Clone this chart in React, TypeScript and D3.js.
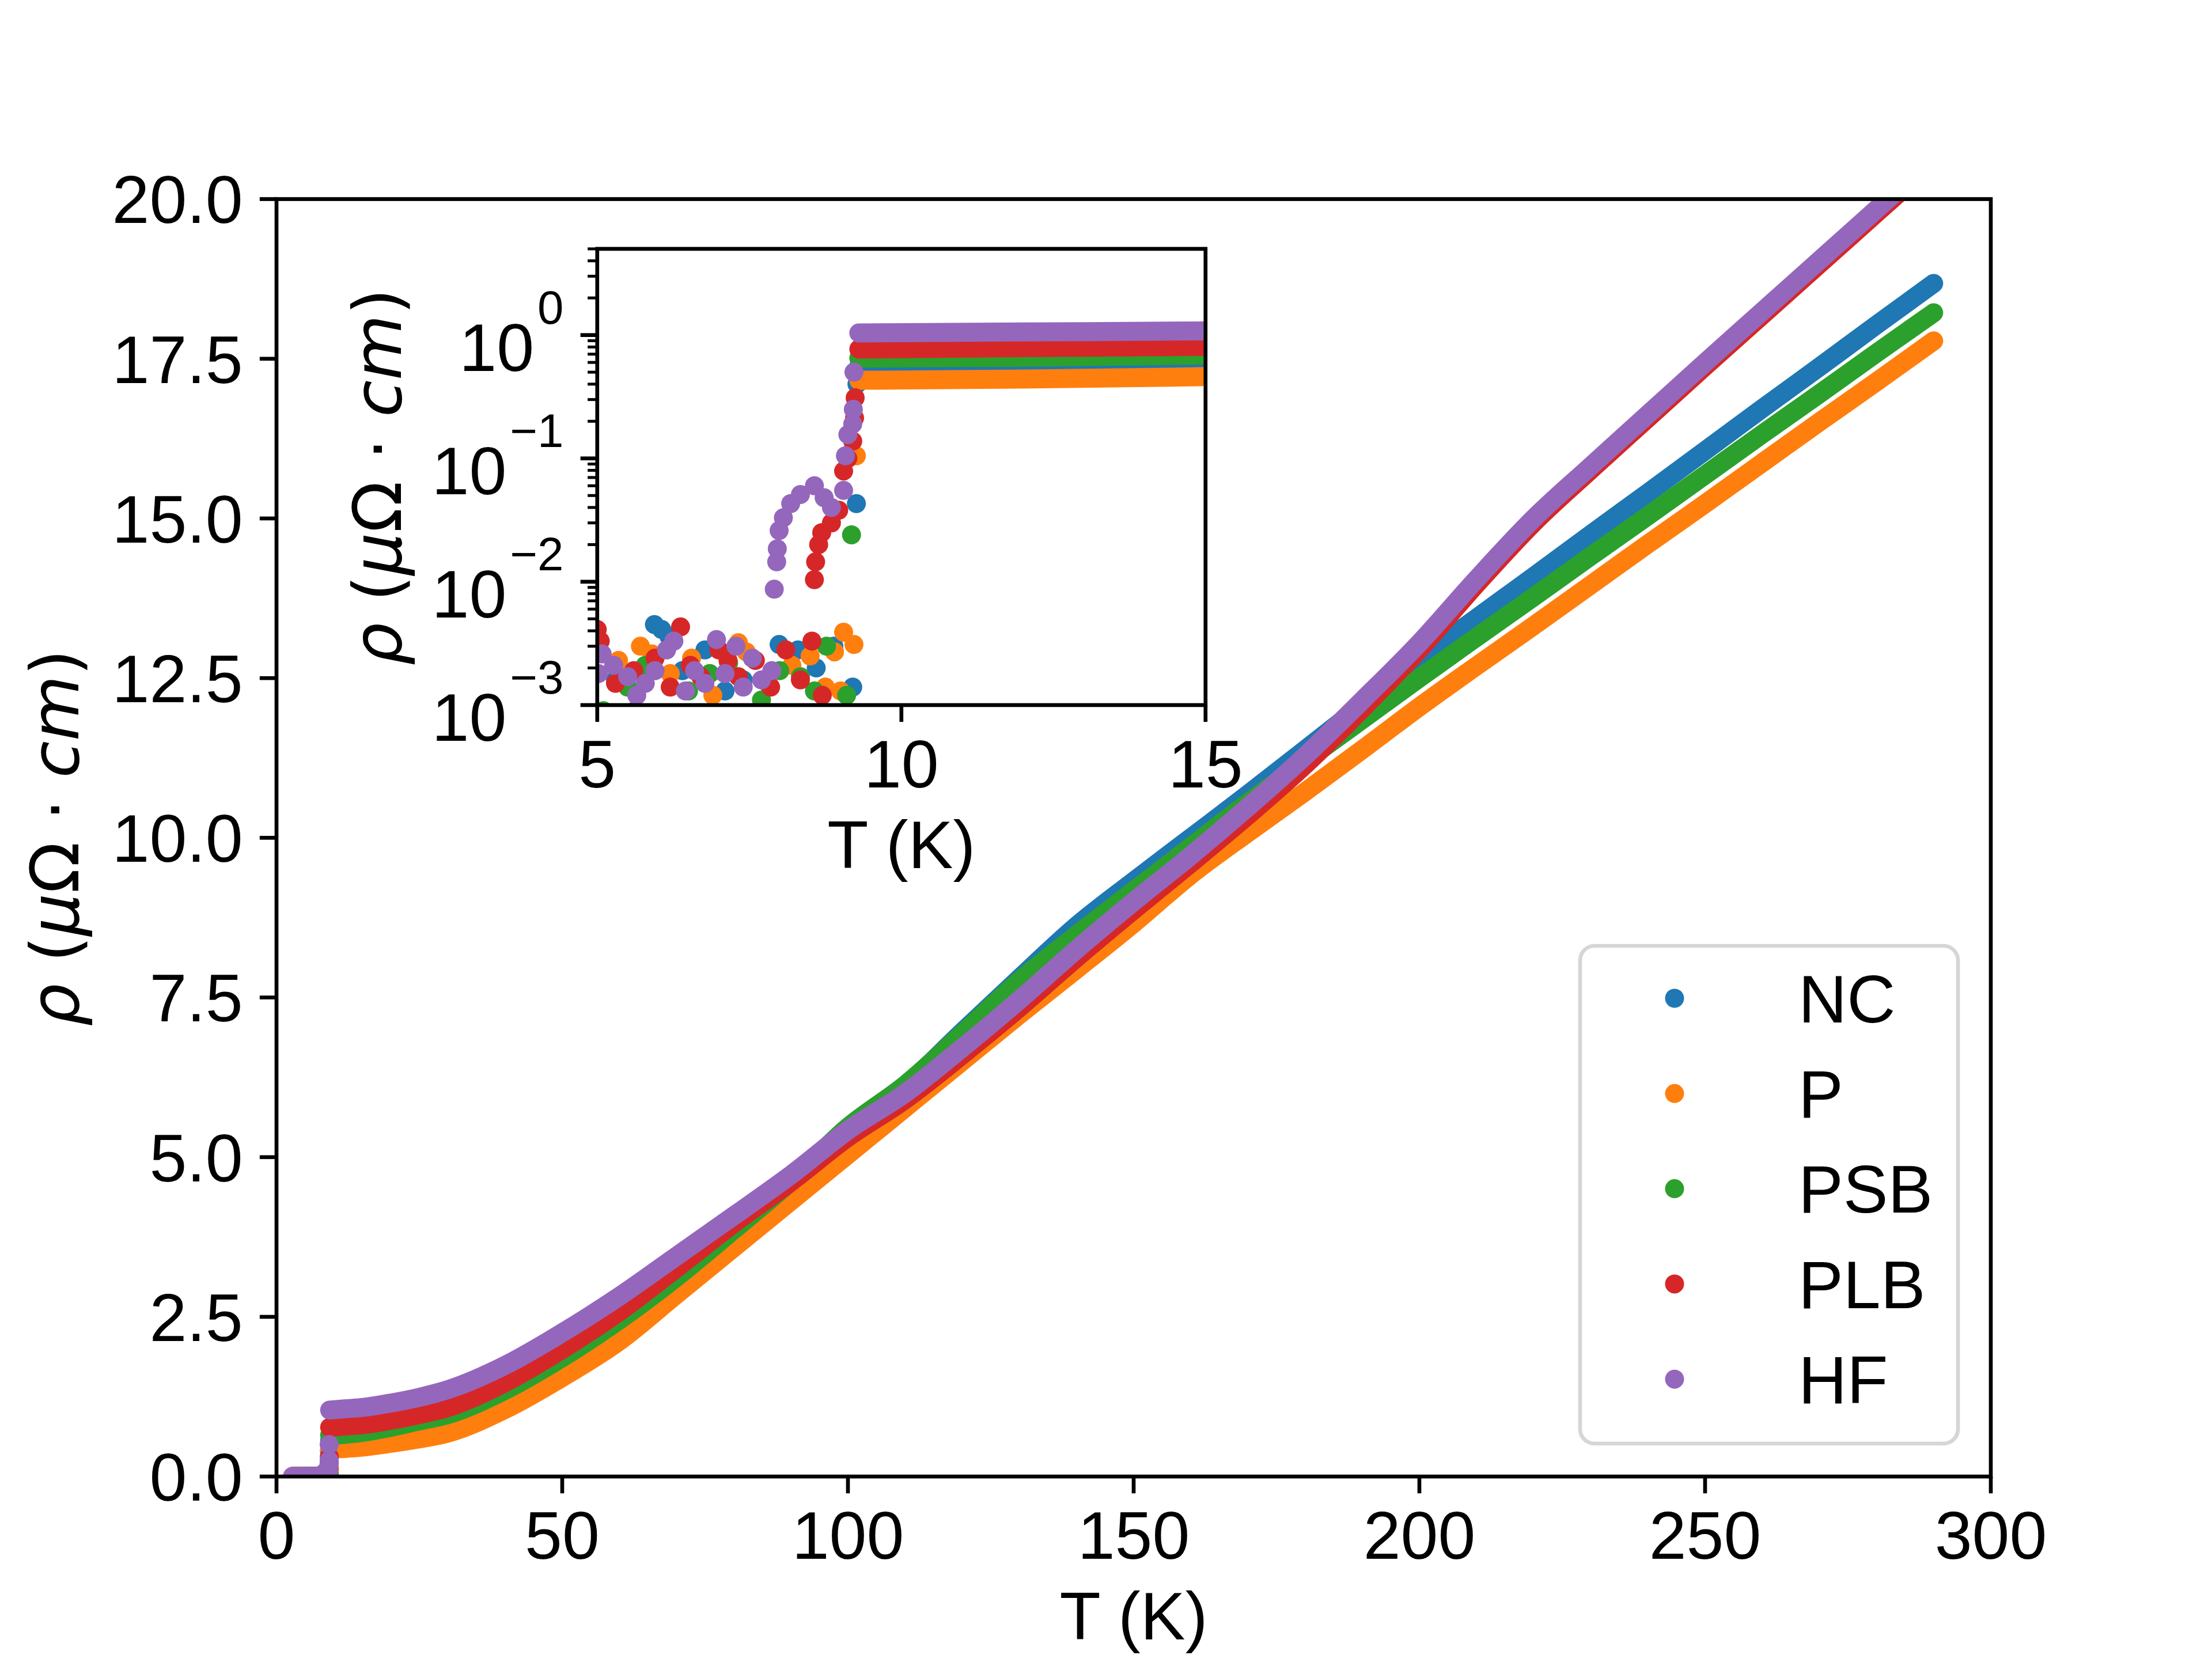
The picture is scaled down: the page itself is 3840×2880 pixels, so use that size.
import React from 'react';
import * as d3 from 'd3';

const NAMES = ['NC', 'P', 'PSB', 'PLB', 'HF'];
const COLORS = ['#1f77b4', '#ff7f0e', '#2ca02c', '#d62728', '#9467bd'];

// normal state: temperature (K) and resistivity (uOhm cm) for each sample
const T_NORMAL = [9.3, 12, 15, 20, 25, 30, 40, 50, 60, 70, 80, 90, 100, 110, 120, 130, 140, 150, 160, 170, 180, 190, 200, 210, 220, 230, 240, 250, 260, 270, 280, 290];
const RHO_NC = [0.56, 0.57, 0.59, 0.66, 0.74, 0.84, 1.2, 1.7, 2.28, 2.98, 3.72, 4.5, 5.35, 6.1, 6.96, 7.8, 8.62, 9.32, 10.0, 10.68, 11.38, 12.08, 12.78, 13.44, 14.09, 14.75, 15.4, 16.06, 16.72, 17.37, 18.03, 18.68];
const RHO_P = [0.43, 0.44, 0.46, 0.52, 0.59, 0.68, 1.05, 1.55, 2.12, 2.85, 3.58, 4.31, 5.04, 5.77, 6.5, 7.23, 7.94, 8.66, 9.42, 10.08, 10.72, 11.38, 12.05, 12.69, 13.32, 13.96, 14.6, 15.23, 15.87, 16.51, 17.14, 17.78];
const RHO_PSB = [0.65, 0.66, 0.69, 0.77, 0.87, 0.97, 1.35, 1.86, 2.45, 3.12, 3.86, 4.62, 5.47, 6.13, 6.93, 7.76, 8.48, 9.17, 9.86, 10.55, 11.2, 11.85, 12.5, 13.14, 13.77, 14.41, 15.04, 15.68, 16.32, 16.95, 17.59, 18.22];
const RHO_PLB = [0.77, 0.79, 0.81, 0.88, 0.97, 1.08, 1.47, 1.99, 2.58, 3.26, 3.96, 4.61, 5.31, 5.9, 6.6, 7.34, 8.12, 8.87, 9.6, 10.35, 11.14, 12.02, 12.95, 13.97, 14.93, 15.76, 16.57, 17.38, 18.18, 18.98, 19.78, 20.58];
const RHO_HF = [1.04, 1.06, 1.08, 1.15, 1.24, 1.36, 1.74, 2.25, 2.82, 3.45, 4.08, 4.72, 5.42, 6.0, 6.71, 7.46, 8.25, 9.0, 9.72, 10.48, 11.28, 12.15, 13.05, 14.05, 15.0, 15.82, 16.63, 17.44, 18.24, 19.04, 19.84, 20.64];

// superconducting state, [T, rho] (noise floor)
const SC_NC = [[2.8, 0.0012], [3.4, 0.0018], [4.1, 0.0015], [4.7, 0.0021], [5.3, 0.0016], [5.62, 0.0009], [5.94, 0.0045], [6.06, 0.0041], [6.18, 0.0036], [6.4, 0.0019], [6.77, 0.0028], [7.1, 0.0013], [7.4, 0.0016], [7.99, 0.0031], [8.3, 0.0028], [8.6, 0.002], [8.89, 0.003], [9.2, 0.0014]];
const SC_P = [[2.9, 0.0015], [3.6, 0.002], [4.3, 0.0011], [4.9, 0.0017], [5.35, 0.0023], [5.71, 0.003], [5.9, 0.0026], [6.2, 0.0018], [6.55, 0.0024], [6.9, 0.0012], [7.32, 0.0032], [7.45, 0.0027], [7.8, 0.0015], [8.2, 0.0021], [8.5, 0.0025], [8.75, 0.0014], [8.9, 0.0027], [9.0, 0.0013], [9.05, 0.0039], [9.22, 0.0031]];
const SC_PSB = [[3.0, 0.0011], [3.7, 0.0016], [4.4, 0.0019], [5.1, 0.0009], [5.5, 0.0014], [5.79, 0.0021], [6.5, 0.0013], [6.85, 0.0018], [7.16, 0.0022], [7.7, 0.0011], [8.0, 0.0019], [8.34, 0.0017], [8.57, 0.0013], [8.77, 0.003], [9.1, 0.0012]];
const SC_PLB = [[2.85, 0.0013], [3.5, 0.0021], [4.2, 0.0017], [4.8, 0.0012], [5.0, 0.0041], [5.05, 0.0033], [5.3, 0.0015], [5.6, 0.0019], [5.95, 0.0024], [6.2, 0.0014], [6.37, 0.0043], [6.53, 0.0021], [6.7, 0.0017], [7.0, 0.0028], [7.15, 0.0023], [7.32, 0.0017], [7.6, 0.0023], [7.85, 0.0014], [8.1, 0.0028], [8.34, 0.0016], [8.53, 0.0033], [8.7, 0.0012]];
const SC_HF = [[2.8, 0.0016], [3.3, 0.0012], [3.9, 0.0019], [4.5, 0.0014], [5.02, 0.0018], [5.08, 0.0026], [5.27, 0.0021], [5.5, 0.0017], [5.65, 0.0012], [5.79, 0.0015], [5.95, 0.0019], [6.14, 0.0028], [6.26, 0.0033], [6.45, 0.0013], [6.6, 0.0019], [6.77, 0.0015], [6.96, 0.0034], [7.1, 0.0018], [7.28, 0.003], [7.4, 0.0014], [7.55, 0.0024], [7.7, 0.0016], [7.87, 0.0019]];

// points caught in the transition, [T, rho]
const TR_NC = [[9.26, 0.043], [9.27, 0.4]];
const TR_P = [[9.26, 0.105]];
const TR_PSB = [[9.18, 0.024]];
const TR_PLB = [[8.57, 0.0104], [8.59, 0.0145], [8.64, 0.02], [8.69, 0.025], [8.85, 0.03], [8.97, 0.038], [9.05, 0.079], [9.12, 0.1], [9.2, 0.138], [9.23, 0.213], [9.24, 0.31]];
const TR_HF = [[7.91, 0.0087], [7.95, 0.0145], [7.96, 0.0185], [7.99, 0.026], [8.06, 0.033], [8.18, 0.043], [8.34, 0.051], [8.57, 0.06], [8.73, 0.048], [8.85, 0.04], [9.05, 0.055], [9.08, 0.105], [9.12, 0.156], [9.2, 0.19], [9.21, 0.25], [9.22, 0.5]];

const MAIN_X_TICKS = [0, 50, 100, 150, 200, 250, 300];
const MAIN_Y_TICKS = [0, 2.5, 5, 7.5, 10, 12.5, 15, 17.5, 20];
const INSET_X_TICKS = [5, 10, 15];
const INSET_Y_EXPONENTS = [-3, -2, -1, 0];

const NORMAL = [RHO_NC, RHO_P, RHO_PSB, RHO_PLB, RHO_HF];
const SC = [SC_NC, SC_P, SC_PSB, SC_PLB, SC_HF];
const TR = [TR_NC, TR_P, TR_PSB, TR_PLB, TR_HF];

const PT = 600 / 72;
const FS = 14 * PT;
const R = 16.5;
const LW = 0.8 * PT;
const TICK = 3.5 * PT;
const FONT = "'Liberation Sans', Arial, Helvetica, sans-serif";
const MATH = "'DejaVu Sans', sans-serif";

const MAIN = { left: 480, right: 3456, top: 345.6, bottom: 2563.2 };
const INSET = { left: 1036.8, right: 2092.8, top: 432, bottom: 1224 };

function RhoLabel({ x, y }) {
  return (
    <text transform={`translate(${x},${y}) rotate(-90)`} textAnchor="middle" fontFamily={MATH} fontSize={FS}>
      <tspan fontStyle="italic">ρ</tspan>
      {' ('}
      <tspan fontStyle="italic">μ</tspan>
      {'Ω · '}
      <tspan fontStyle="italic">cm</tspan>
      {')'}
    </text>
  );
}

export default function App() {
  const x = d3.scaleLinear().domain([0, 300]).range([MAIN.left, MAIN.right]);
  const y = d3.scaleLinear().domain([0, 20]).range([MAIN.bottom, MAIN.top]);
  const xi = d3.scaleLinear().domain([5, 15]).range([INSET.left, INSET.right]);
  const yi = d3.scaleLog().domain([1e-3, 5]).range([INSET.bottom, INSET.top]);

  const series = NAMES.map((name, i) => ({
    name,
    color: COLORS[i],
    normal: T_NORMAL.map((t, j) => [t, NORMAL[i][j]]),
    sc: [...SC[i]].sort((a, b) => a[0] - b[0]),
    tr: TR[i],
  }));

  const lineMain = d3.line().x((d) => x(d[0])).y((d) => y(d[1])).curve(d3.curveMonotoneX);
  const lineMainFlat = d3.line().x((d) => x(d[0])).y((d) => y(d[1]));
  const lineInset = d3.line().x((d) => xi(d[0])).y((d) => yi(d[1])).curve(d3.curveMonotoneX);

  const minorTicks = [];
  INSET_Y_EXPONENTS.forEach((e) => {
    for (let m = 2; m <= 9; m++) {
      const v = m * Math.pow(10, e);
      if (v <= 5.0001) minorTicks.push(v);
    }
  });

  const thick = { fill: 'none', strokeWidth: 2 * R, strokeLinecap: 'round', strokeLinejoin: 'round' } as const;

  return (
    <svg width={3840} height={2880} viewBox="0 0 3840 2880" style={{ position: 'absolute', left: 0, top: 0, background: '#fff' }}>
      <defs>
        <clipPath id="clip-main">
          <rect x={MAIN.left} y={MAIN.top} width={MAIN.right - MAIN.left} height={MAIN.bottom - MAIN.top} />
        </clipPath>
        <clipPath id="clip-inset">
          <rect x={INSET.left} y={INSET.top} width={INSET.right - INSET.left} height={INSET.bottom - INSET.top} />
        </clipPath>
      </defs>
      <rect x={0} y={0} width={3840} height={2880} fill="#fff" />

      {/* main axes data */}
      <g clipPath="url(#clip-main)">
        {series.map((s) => (
          <g key={s.name}>
            <path d={lineMainFlat(s.sc)} stroke={s.color} {...thick} />
            {s.tr.map((d, k) => (
              <circle key={k} cx={x(d[0])} cy={y(d[1])} r={R} fill={s.color} />
            ))}
            <path d={lineMain(s.normal)} stroke={s.color} {...thick} />
          </g>
        ))}
      </g>

      <rect x={MAIN.left} y={MAIN.top} width={MAIN.right - MAIN.left} height={MAIN.bottom - MAIN.top} fill="none" stroke="#000" strokeWidth={LW} />

      {/* main ticks */}
      <g fontFamily={FONT} fontSize={FS} fill="#000">
        {MAIN_X_TICKS.map((t) => (
          <g key={'x' + t}>
            <line x1={x(t)} x2={x(t)} y1={MAIN.bottom} y2={MAIN.bottom + TICK} stroke="#000" strokeWidth={LW} />
            <text x={x(t)} y={2706} textAnchor="middle">{t}</text>
          </g>
        ))}
        {MAIN_Y_TICKS.map((t) => (
          <g key={'y' + t}>
            <line x1={MAIN.left - TICK} x2={MAIN.left} y1={y(t)} y2={y(t)} stroke="#000" strokeWidth={LW} />
            <text x={MAIN.left - 2 * TICK} y={y(t) + 0.358 * FS} textAnchor="end">{d3.format('.1f')(t)}</text>
          </g>
        ))}
        <text x={(MAIN.left + MAIN.right) / 2} y={2846} textAnchor="middle">T (K)</text>
      </g>
      <RhoLabel x={136} y={(MAIN.top + MAIN.bottom) / 2} />

      {/* legend */}
      <g>
        <rect x={2743} y={1642} width={656} height={864} rx={25} ry={25} fill="#fff" fillOpacity={0.8} stroke="#d6d6d6" strokeWidth={LW} />
        {series.map((s, i) => {
          const cy = 1733 + i * 165.3;
          return (
            <g key={s.name}>
              <circle cx={2907} cy={cy} r={R} fill={s.color} />
              <text x={3122} y={cy + 0.358 * FS} fontFamily={FONT} fontSize={FS}>{s.name}</text>
            </g>
          );
        })}
      </g>

      {/* inset */}
      <rect x={INSET.left} y={INSET.top} width={INSET.right - INSET.left} height={INSET.bottom - INSET.top} fill="#fff" />
      <g clipPath="url(#clip-inset)">
        {series.map((s) => (
          <g key={s.name}>
            {s.sc.map((d, k) => (
              <circle key={'s' + k} cx={xi(d[0])} cy={yi(d[1])} r={R} fill={s.color} />
            ))}
            {s.tr.map((d, k) => (
              <circle key={'t' + k} cx={xi(d[0])} cy={yi(d[1])} r={R} fill={s.color} />
            ))}
            <path d={lineInset(s.normal.filter((d) => d[0] <= 25))} stroke={s.color} {...thick} />
          </g>
        ))}
      </g>
      <rect x={INSET.left} y={INSET.top} width={INSET.right - INSET.left} height={INSET.bottom - INSET.top} fill="none" stroke="#000" strokeWidth={LW} />

      <g fontFamily={FONT} fontSize={FS} fill="#000">
        {INSET_X_TICKS.map((t) => (
          <g key={'ix' + t}>
            <line x1={xi(t)} x2={xi(t)} y1={INSET.bottom} y2={INSET.bottom + TICK} stroke="#000" strokeWidth={LW} />
            <text x={xi(t)} y={INSET.bottom + 143} textAnchor="middle">{t}</text>
          </g>
        ))}
        {minorTicks.map((v) => (
          <line key={'m' + v} x1={INSET.left - 2 * PT} x2={INSET.left} y1={yi(v)} y2={yi(v)} stroke="#000" strokeWidth={0.6 * PT} />
        ))}
        {INSET_Y_EXPONENTS.map((e) => {
          const ty = yi(Math.pow(10, e));
          return (
            <g key={'iy' + e}>
              <line x1={INSET.left - TICK} x2={INSET.left} y1={ty} y2={ty} stroke="#000" strokeWidth={LW} />
              <text x={INSET.left - 2 * TICK} y={ty + 62} textAnchor="end">
                {'10'}
                <tspan dx={6} dy={-82} fontSize={0.7 * FS}>{e < 0 ? '\u2212' + Math.abs(e) : String(e)}</tspan>
              </text>
            </g>
          );
        })}
        <text x={(INSET.left + INSET.right) / 2} y={INSET.bottom + 283} textAnchor="middle">T (K)</text>
      </g>
      <RhoLabel x={696} y={(INSET.top + INSET.bottom) / 2} />
    </svg>
  );
}
